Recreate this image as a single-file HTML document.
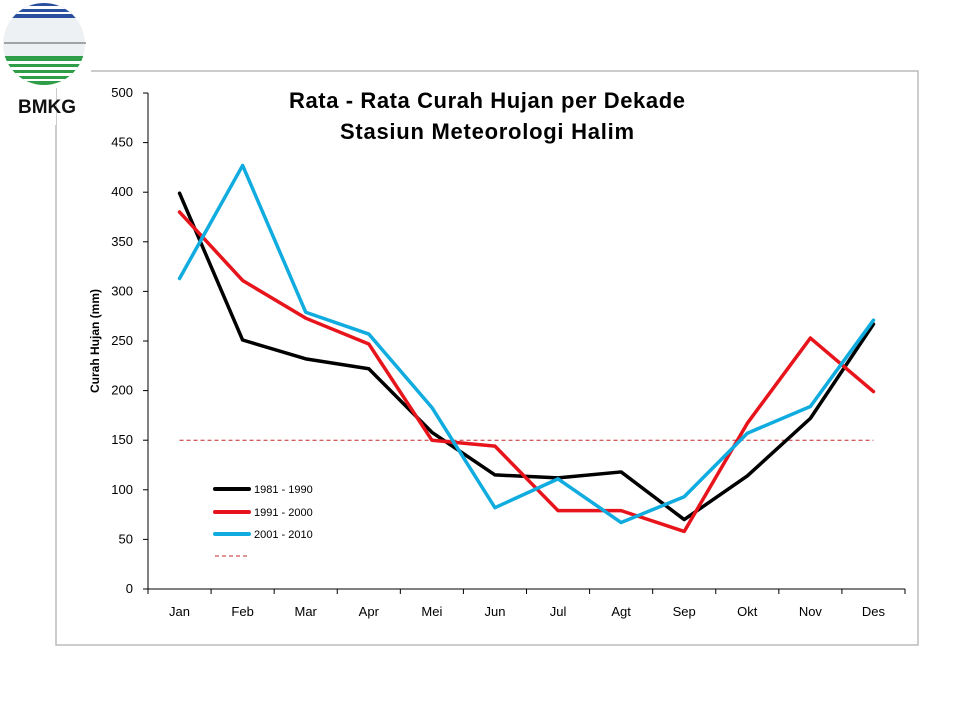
<!DOCTYPE html>
<html><head><meta charset="utf-8"><style>
body{margin:0;background:#fff;font-family:"Liberation Sans",sans-serif}
</style></head><body>
<svg width="960" height="720" viewBox="0 0 960 720" xmlns="http://www.w3.org/2000/svg">
<rect x="56" y="71" width="862" height="574" fill="#fff" stroke="#bbb" stroke-width="1.5"/>
<text x="487" y="108" text-anchor="middle" font-size="22" font-weight="bold" textLength="396">Rata - Rata Curah Hujan per Dekade</text>
<text x="487" y="139" text-anchor="middle" font-size="22" font-weight="bold" textLength="294">Stasiun Meteorologi Halim</text>
<text transform="translate(99,341) rotate(-90)" text-anchor="middle" font-size="12" font-weight="bold">Curah Hujan (mm)</text>
<g id="axes"></g>
<g id="series"></g>
<g font-size="11">
<line x1="215" y1="489" x2="249" y2="489" stroke="#000" stroke-width="4" stroke-linecap="round"/>
<text x="254" y="493">1981 - 1990</text>
<line x1="215" y1="512" x2="249" y2="512" stroke="#e8141c" stroke-width="4" stroke-linecap="round"/>
<text x="254" y="516">1991 - 2000</text>
<line x1="215" y1="534" x2="249" y2="534" stroke="#10acdf" stroke-width="4" stroke-linecap="round"/>
<text x="254" y="538">2001 - 2010</text>
<line x1="215" y1="556" x2="248" y2="556" stroke="#c0282a" stroke-width="1" stroke-dasharray="4,3"/>
</g>
<g>
<defs><clipPath id="cc"><circle cx="44" cy="44" r="41"/></clipPath></defs>
<rect x="0" y="0" width="56" height="125" fill="#fff"/>
<rect x="56" y="0" width="35" height="88" fill="#fff"/>
<g clip-path="url(#cc)">
<circle cx="44" cy="44" r="41" fill="#eef1f3"/>
<rect x="0" y="0" width="90" height="18" fill="#2a4f9e"/>
<rect x="0" y="6" width="90" height="3" fill="#fff"/>
<rect x="0" y="12" width="90" height="2" fill="#fff"/>
<rect x="0" y="56" width="90" height="40" fill="#2e9e48"/>
<rect x="0" y="61" width="90" height="3" fill="#fff"/>
<rect x="0" y="67" width="90" height="3" fill="#fff"/>
<rect x="0" y="73" width="90" height="3" fill="#fff"/>
<rect x="0" y="79" width="90" height="2" fill="#fff"/>
</g>
<line x1="4" y1="43" x2="86" y2="43" stroke="#555" stroke-width="1"/>
<text x="47" y="113" text-anchor="middle" font-size="19" font-weight="bold" fill="#111">BMKG</text>
</g>
</svg>
<script>
const categories=["Jan","Feb","Mar","Apr","Mei","Jun","Jul","Agt","Sep","Okt","Nov","Des"];
const s1981=[399,251,232,222,158,115,112,118,70,114,172,267];
const s1991=[380,311,273,247,150,144,79,79,58,167,253,199];
const s2001=[313,427,279,257,183,82,111,67,93,157,184,271];
const yTicks=[0,50,100,150,200,250,300,350,400,450,500];
const refValue=150;
const NS="http://www.w3.org/2000/svg";
const L=148,R=905,T=93,B=589,maxY=500;
const bw=(R-L)/categories.length;
const xs=i=>L+bw*(i+0.5);
const ys=v=>B-(v/maxY)*(B-T);
function mk(t,a,p){const e=document.createElementNS(NS,t);for(const k in a)e.setAttribute(k,a[k]);p.appendChild(e);return e;}
const ax=document.getElementById('axes');
const yl=mk('line',{x1:L,y1:T,x2:L,y2:B,stroke:'#000','stroke-width':1},ax);


const xl=mk('line',{x1:L,y1:B,x2:R,y2:B,stroke:'#000','stroke-width':1},ax);


yTicks.forEach(v=>{
  mk('line',{x1:L-5,y1:ys(v),x2:L,y2:ys(v),stroke:'#000'},ax);
  const t=mk('text',{x:L-15,y:ys(v)+4,'text-anchor':'end','font-size':13},ax);
  t.textContent=v;
  
  
});
for(let i=0;i<=categories.length;i++){mk('line',{x1:L+bw*i,y1:B,x2:L+bw*i,y2:B+5,stroke:'#000'},ax);}
categories.forEach((c,i)=>{
  const t=mk('text',{x:xs(i),y:B+27,'text-anchor':'middle','font-size':13},ax);
  t.textContent=c;
  
  
});
const sg=document.getElementById('series');
const ref=mk('line',{x1:xs(0),y1:ys(refValue),x2:xs(11),y2:ys(refValue),stroke:'#c0282a','stroke-width':1,'stroke-dasharray':'4,3'},sg);


[[s1981,'#000','series-1981-1990'],[s1991,'#e8141c','series-1991-2000'],[s2001,'#10acdf','series-2001-2010']].forEach(([d,c,n])=>{
  const p=mk('polyline',{points:d.map((v,i)=>xs(i)+','+ys(v)).join(' '),fill:'none',stroke:c,'stroke-width':3.5,'stroke-linejoin':'round','stroke-linecap':'round'},sg);
  
  
});
</script>
</body></html>
